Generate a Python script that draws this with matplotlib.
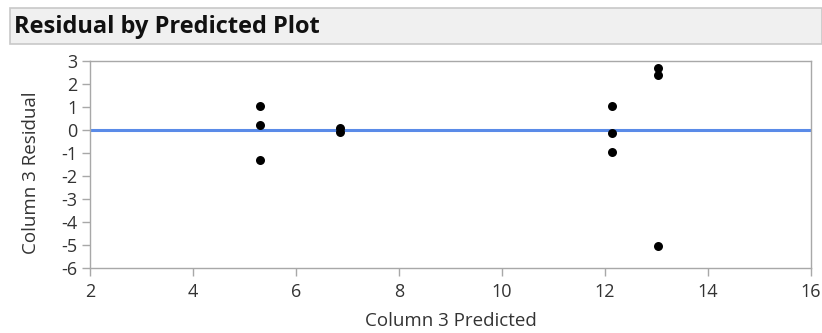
import matplotlib
matplotlib.use("Agg")
import matplotlib.pyplot as plt
from matplotlib.patches import Rectangle

# Predicted values and residuals for Column 3
predicted = [5.30, 5.30, 5.30, 6.85, 6.85, 12.14, 12.14, 12.14, 13.02, 13.02, 13.02]
residual = [1.03, 0.23, -1.29, 0.08, -0.08, 1.06, -0.13, -0.94, 2.70, 2.38, -5.03]

x_ticks = [2, 4, 6, 8, 10, 12, 14, 16]
y_ticks = [3, 2, 1, 0, -1, -2, -3, -4, -5, -6]

title = "Residual by Predicted Plot"
x_label = "Column 3 Predicted"
y_label = "Column 3 Residual"

plt.rcParams["font.family"] = ["Open Sans", "DejaVu Sans"]

W, H = 822, 333
fig = plt.figure(figsize=(W / 100, H / 100), dpi=100)
fig.patch.set_facecolor("white")

# Header bar
bar = Rectangle((10 / W, 1 - 44 / H), (W - 10) / W, 36 / H,
                transform=fig.transFigure, facecolor="#f0f0f0",
                edgecolor="#c8c8c8", linewidth=1.2)
fig.patches.append(bar)
fig.text(14 / W, 1 - 33 / H, title, fontsize=17, fontweight="bold",
         color="#111111", va="baseline", ha="left")

L, R, T, B = 90, 811, 61, 268
ax = fig.add_axes([L / W, 1 - B / H, (R - L) / W, (B - T) / H])
ax.axhline(0, color="#5a8be8", linewidth=2.2, zorder=2)
ax.scatter(predicted, residual, s=42, color="black", zorder=3, linewidths=0)

ax.set_xlim(2, 16)
ax.set_ylim(-6, 3)
ax.set_xticks(x_ticks)
ax.set_yticks(y_ticks)
ax.set_xticklabels([str(v) for v in x_ticks])
ax.set_yticklabels([str(v) for v in y_ticks])

for sp in ax.spines.values():
    sp.set_color("#a8a8a8")
    sp.set_linewidth(1.0)
ax.tick_params(axis="both", colors="#a8a8a8", labelcolor="#333333",
               labelsize=13, length=6, width=1, direction="out")
ax.tick_params(axis="x", pad=5)
ax.tick_params(axis="y", pad=3)

ax.set_xlabel(x_label, fontsize=13.5, color="#333333")
ax.xaxis.label.set_va("baseline")
ax.xaxis.set_label_coords(0.5, (B - 326.5) / (B - T))

ax.set_ylabel(y_label, fontsize=13.5, color="#333333")
ax.yaxis.label.set_va("center")
ax.yaxis.set_label_coords((31 - L) / (R - L), 0.46)

fig.savefig("out.png", dpi=100)
